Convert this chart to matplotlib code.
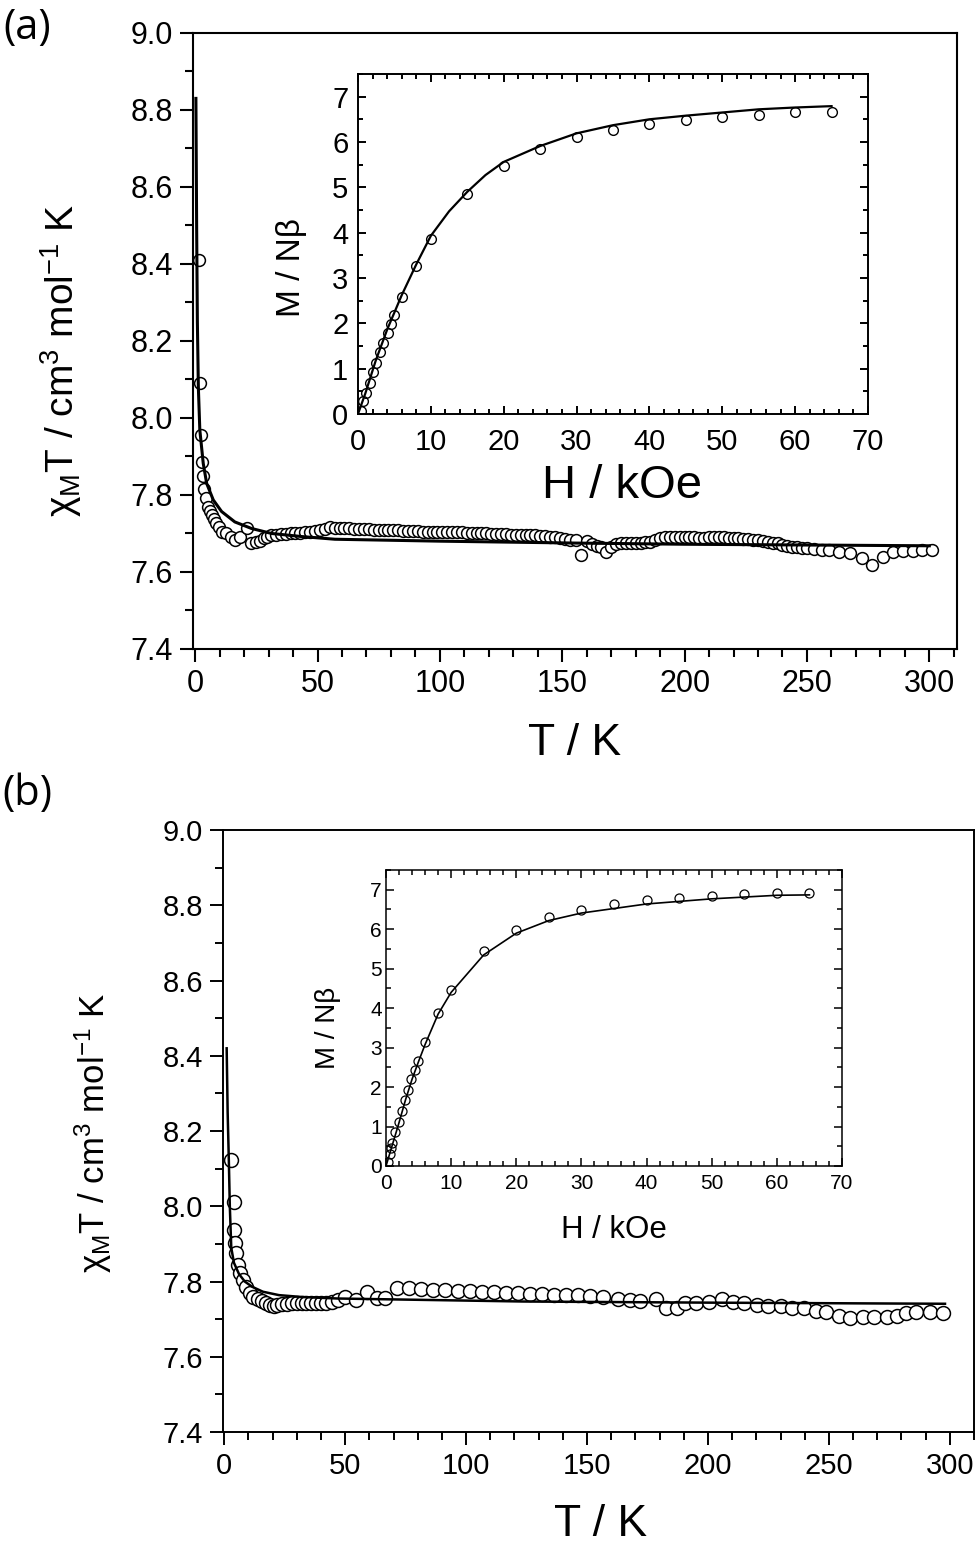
import numpy as np
import matplotlib
matplotlib.use('Agg')
import matplotlib.pyplot as plt
from matplotlib.ticker import MultipleLocator, FormatStrFormatter

plt.rcParams['font.family'] = ['Liberation Sans', 'DejaVu Sans']
plt.rcParams['mathtext.fontset'] = 'custom'
plt.rcParams['mathtext.rm'] = 'Liberation Sans'
plt.rcParams['mathtext.it'] = 'Liberation Sans:italic'

#%% panel (a) data

T_a = [1.5, 1.9, 2.2, 2.6, 3.0, 3.6, 4.4, 5.3, 6.0, 6.7, 7.7, 8.7, 9.7, 10.8, 12.8,
       14.5, 16.2, 18.5, 21.0, 23.0, 24.7, 26.4, 28.0, 29.2, 31, 33, 35, 37, 39, 41,
       43, 45, 47, 49, 51, 53, 55, 57, 59, 61, 63, 65, 67, 69, 71, 73, 75, 77, 79, 81,
       83, 85, 87, 89, 91, 93, 95, 97, 99, 101, 103, 105, 107, 109, 111, 113, 115, 117,
       119, 121, 123, 125, 127, 129, 131, 133, 135, 137, 139, 141, 143, 145, 147, 149,
       151, 153, 155.5, 157.5, 160, 162, 164, 166, 167.7, 170, 172, 174, 176, 178, 180,
       182, 184, 186, 188, 190, 192, 194, 196, 198, 200, 202, 204, 206, 208, 210, 212,
       214, 216, 218, 220, 222, 224, 226, 228, 230, 232, 234, 236, 238, 240, 242, 244,
       246, 248, 250, 253, 256, 259, 263, 267.6, 272.3, 276.4, 281.2, 285.3, 289.4,
       293.5, 296.9, 301]
chiT_a = [8.41, 8.09, 7.956, 7.886, 7.849, 7.815, 7.791, 7.770, 7.758, 7.748, 7.737,
          7.727, 7.716, 7.705, 7.700, 7.690, 7.683, 7.690, 7.713, 7.675, 7.677, 7.680,
          7.688, 7.692, 7.695, 7.697, 7.698, 7.699, 7.700, 7.700, 7.701, 7.703, 7.705,
          7.707, 7.709, 7.712, 7.716, 7.715, 7.713, 7.713, 7.713, 7.712, 7.712, 7.711,
          7.711, 7.710, 7.710, 7.709, 7.709, 7.708, 7.708, 7.707, 7.707, 7.706, 7.706,
          7.705, 7.705, 7.705, 7.704, 7.704, 7.704, 7.703, 7.703, 7.703, 7.702, 7.701,
          7.701, 7.700, 7.700, 7.699, 7.699, 7.698, 7.698, 7.697, 7.697, 7.696, 7.696,
          7.695, 7.695, 7.694, 7.693, 7.692, 7.690, 7.688, 7.686, 7.684, 7.683, 7.644,
          7.680, 7.672, 7.668, 7.664, 7.653, 7.666, 7.672, 7.674, 7.675, 7.675, 7.676,
          7.676, 7.677, 7.678, 7.682, 7.688, 7.690, 7.691, 7.691, 7.691, 7.690, 7.690,
          7.690, 7.689, 7.689, 7.690, 7.691, 7.691, 7.690, 7.689, 7.688, 7.687, 7.686,
          7.685, 7.684, 7.682, 7.680, 7.678, 7.676, 7.674, 7.671, 7.668, 7.666, 7.664,
          7.663, 7.662, 7.660, 7.658, 7.656, 7.653, 7.649, 7.636, 7.618, 7.640, 7.653,
          7.655, 7.655, 7.656, 7.657]

T_fit_a = [0.3, 0.6, 0.9, 1.3, 1.9, 3.3, 4.7, 7.4, 10.8, 16.2, 23, 31.2, 43.5, 57.1,
           100, 156, 200, 250, 300]
chiT_fit_a = [8.83, 8.50, 8.25, 8.08, 7.969, 7.882, 7.830, 7.787, 7.757, 7.730, 7.713,
              7.700, 7.692, 7.685, 7.680, 7.675, 7.672, 7.670, 7.668]

H_a = [0.4, 0.73, 1.07, 1.6, 2.05, 2.44, 3.0, 3.5, 4.05, 4.5, 5.0, 6.0, 8.0, 10.0,
       15, 20, 25, 30, 35, 40, 45, 50, 55, 60, 65]
M_a = [0.07, 0.29, 0.46, 0.68, 0.92, 1.13, 1.36, 1.56, 1.79, 1.99, 2.19, 2.58, 3.26,
       3.85, 4.86, 5.47, 5.84, 6.10, 6.26, 6.40, 6.48, 6.56, 6.60, 6.65, 6.67]
H_fit_a = [0, 1, 2.44, 4, 6, 8, 10, 12.5, 15, 17.5, 20, 25, 30, 35, 40, 45, 50, 55,
           60, 65]
M_fit_a = [0, 0.45, 1.18, 1.86, 2.62, 3.3, 3.93, 4.47, 4.9, 5.27, 5.56, 5.91, 6.19,
           6.37, 6.50, 6.58, 6.65, 6.72, 6.76, 6.79]

#%% panel (b) data

T_b = [2.9, 4.0, 4.2, 4.4, 5.0, 5.7, 6.6, 7.7, 9.0, 10.5, 12, 13.8, 15.5, 17.1, 18.8,
       20.4, 22, 24, 26, 28, 30, 32, 34, 36, 38, 40, 42, 44.6, 47, 50, 54.5, 58.9,
       63.3, 66.5, 71.4, 76.4, 81.5, 86.3, 91.4, 96.6, 101.7, 106.5, 111.6, 116.6,
       121.5, 126.3, 131.3, 136.4, 141.2, 146.3, 151.3, 156.6, 162.7, 167.6, 172,
       178.6, 182.5, 187.3, 190.6, 195, 200.5, 206, 210.4, 214.8, 220.3, 224.7, 230.2,
       234.6, 239.6, 244.5, 248.8, 254.3, 258.7, 264.2, 268.6, 274.1, 278, 281.8,
       286.2, 291.7, 297.2]
chiT_b = [8.123, 8.012, 7.937, 7.902, 7.875, 7.844, 7.822, 7.804, 7.786, 7.769, 7.760,
          7.755, 7.748, 7.742, 7.738, 7.735, 7.737, 7.740, 7.741, 7.742, 7.742, 7.742,
          7.742, 7.742, 7.742, 7.743, 7.744, 7.747, 7.750, 7.760, 7.750, 7.773, 7.757,
          7.757, 7.782, 7.782, 7.779, 7.777, 7.777, 7.776, 7.775, 7.773, 7.771, 7.770,
          7.769, 7.767, 7.766, 7.764, 7.764, 7.763, 7.762, 7.760, 7.755, 7.751, 7.749,
          7.755, 7.729, 7.729, 7.742, 7.744, 7.747, 7.755, 7.747, 7.742, 7.738, 7.735,
          7.734, 7.731, 7.729, 7.723, 7.718, 7.709, 7.702, 7.707, 7.707, 7.707, 7.709,
          7.716, 7.720, 7.718, 7.716]

T_fit_b = [1.0, 1.4, 1.9, 2.3, 2.9, 4.0, 6.1, 8.5, 11.6, 16, 22.6, 32, 46.8, 123.7,
           200, 298]
chiT_fit_b = [8.42, 8.25, 8.12, 8.00, 7.89, 7.85, 7.82, 7.800, 7.786, 7.773, 7.764,
              7.759, 7.755, 7.747, 7.744, 7.741]

H_b = [0.26, 0.56, 0.77, 0.92, 1.43, 1.94, 2.45, 2.86, 3.37, 3.88, 4.39, 4.9, 5.93,
       7.97, 9.96, 15, 20, 25, 30, 35, 40, 45, 50, 55, 60, 65]
M_b = [0.11, 0.30, 0.45, 0.59, 0.85, 1.12, 1.40, 1.66, 1.93, 2.20, 2.43, 2.67, 3.13,
       3.87, 4.46, 5.45, 5.98, 6.30, 6.49, 6.64, 6.73, 6.79, 6.85, 6.89, 6.91, 6.93]
H_fit_b = [0, 1, 2, 3, 4, 5, 6, 8, 10, 15, 20, 25, 30, 40, 50, 60, 65]
M_fit_b = [0, 0.55, 1.1, 1.68, 2.2, 2.65, 3.08, 3.85, 4.4, 5.35, 5.90, 6.22, 6.41,
           6.64, 6.77, 6.86, 6.87]

ylab = r'$\mathregular{χ_M T\ /\ cm^3\ mol^{-1}\ K}$'

#%%

def style_main(ax, tick_fs, lw):
    ax.set_ylim(7.4, 9.0)
    ax.xaxis.set_major_locator(MultipleLocator(50))
    ax.xaxis.set_minor_locator(MultipleLocator(10))
    ax.yaxis.set_major_locator(MultipleLocator(0.2))
    ax.yaxis.set_minor_locator(MultipleLocator(0.1))
    ax.yaxis.set_major_formatter(FormatStrFormatter('%.1f'))
    ax.tick_params(which='both', direction='out', top=False, right=False, width=lw)
    ax.tick_params(which='major', length=9.5)
    ax.tick_params(which='minor', length=5.5)
    ax.tick_params(axis='x', which='major', labelsize=tick_fs, pad=5)
    ax.tick_params(axis='y', which='major', labelsize=tick_fs, pad=5)
    for s in ax.spines.values():
        s.set_linewidth(lw)


def style_inset(ax, tick_fs, lw, xpad, ypad):
    ax.set_xlim(0, 70)
    ax.set_ylim(0, 7.5)
    ax.xaxis.set_major_locator(MultipleLocator(10))
    ax.xaxis.set_minor_locator(MultipleLocator(2))
    ax.yaxis.set_major_locator(MultipleLocator(1))
    ax.yaxis.set_minor_locator(MultipleLocator(0.5))
    ax.tick_params(which='both', direction='in', top=True, right=True, width=lw)
    ax.tick_params(which='major', length=6)
    ax.tick_params(which='minor', length=3.5)
    ax.tick_params(axis='x', which='major', labelsize=tick_fs, pad=xpad)
    ax.tick_params(axis='y', which='major', labelsize=tick_fs, pad=ypad)
    for s in ax.spines.values():
        s.set_linewidth(lw)


fig = plt.figure(figsize=(9.8, 15.47), dpi=100)

# (a)
ax_a = fig.add_axes([0.1969, 0.5805, 0.7796, 0.3982])
ax_a.plot(T_fit_a, chiT_fit_a, '-', c='black', lw=2.2, zorder=3)
ax_a.plot(T_a, chiT_a, 'o', mfc='white', mec='black', mew=1.1, ms=8.5, zorder=2)
ax_a.set_xlim(-0.9, 311.3)
style_main(ax_a, 22, 1.5)
ax_a.set_xlabel('T / K', fontsize=32, va='center')
ax_a.xaxis.set_label_coords(0.5, -0.153)
ax_a.set_ylabel(ylab, fontsize=28, va='center')
ax_a.yaxis.set_label_coords(-0.172, 0.469)

in_a = fig.add_axes([0.3653, 0.7324, 0.5204, 0.2198])
in_a.plot(H_fit_a, M_fit_a, '-', c='black', lw=1.6, zorder=3)
in_a.plot(H_a, M_a, 'o', mfc='none', mec='black', mew=1.0, ms=7, zorder=2)
style_inset(in_a, 21, 1.4, 10, 7)
in_a.set_xlabel('H / kOe', fontsize=34, va='center')
in_a.xaxis.set_label_coords(0.518, -0.212)
in_a.set_ylabel('M / Nβ', fontsize=24, va='center')
in_a.yaxis.set_label_coords(-0.131, 0.432)

# (b)
ax_b = fig.add_axes([0.2276, 0.0743, 0.7663, 0.3891])
ax_b.plot(T_fit_b, chiT_fit_b, '-', c='black', lw=1.8, zorder=3)
ax_b.plot(T_b, chiT_b, 'o', mfc='white', mec='black', mew=1.1, ms=10, zorder=2)
ax_b.set_xlim(-0.5, 310)
style_main(ax_b, 21, 1.4)
ax_b.set_xlabel('T / K', fontsize=32, va='center')
ax_b.xaxis.set_label_coords(0.503, -0.153)
ax_b.set_ylabel(ylab, fontsize=25, va='center')
ax_b.yaxis.set_label_coords(-0.173, 0.497)

in_b = fig.add_axes([0.3939, 0.2463, 0.4653, 0.1913])
in_b.plot(H_fit_b, M_fit_b, '-', c='black', lw=1.2, zorder=3)
in_b.plot(H_b, M_b, 'o', mfc='none', mec='black', mew=0.9, ms=6.5, zorder=2)
style_inset(in_b, 15, 1.1, 6, 3)
in_b.set_xlabel('H / kOe', fontsize=22.5, va='center')
in_b.xaxis.set_label_coords(0.5, -0.216)
in_b.set_ylabel('M / Nβ', fontsize=20, va='center')
in_b.yaxis.set_label_coords(-0.127, 0.466)

fig.text(27 / 980, 1 - 28 / 1547, '(a)', fontsize=30, family=['Open Sans', 'DejaVu Sans'],
         ha='center', va='center')
fig.text(27 / 980, 1 - 794 / 1547, '(b)', fontsize=30, family=['Open Sans', 'DejaVu Sans'],
         ha='center', va='center')

fig.savefig('out.png', dpi=100, facecolor='white')
